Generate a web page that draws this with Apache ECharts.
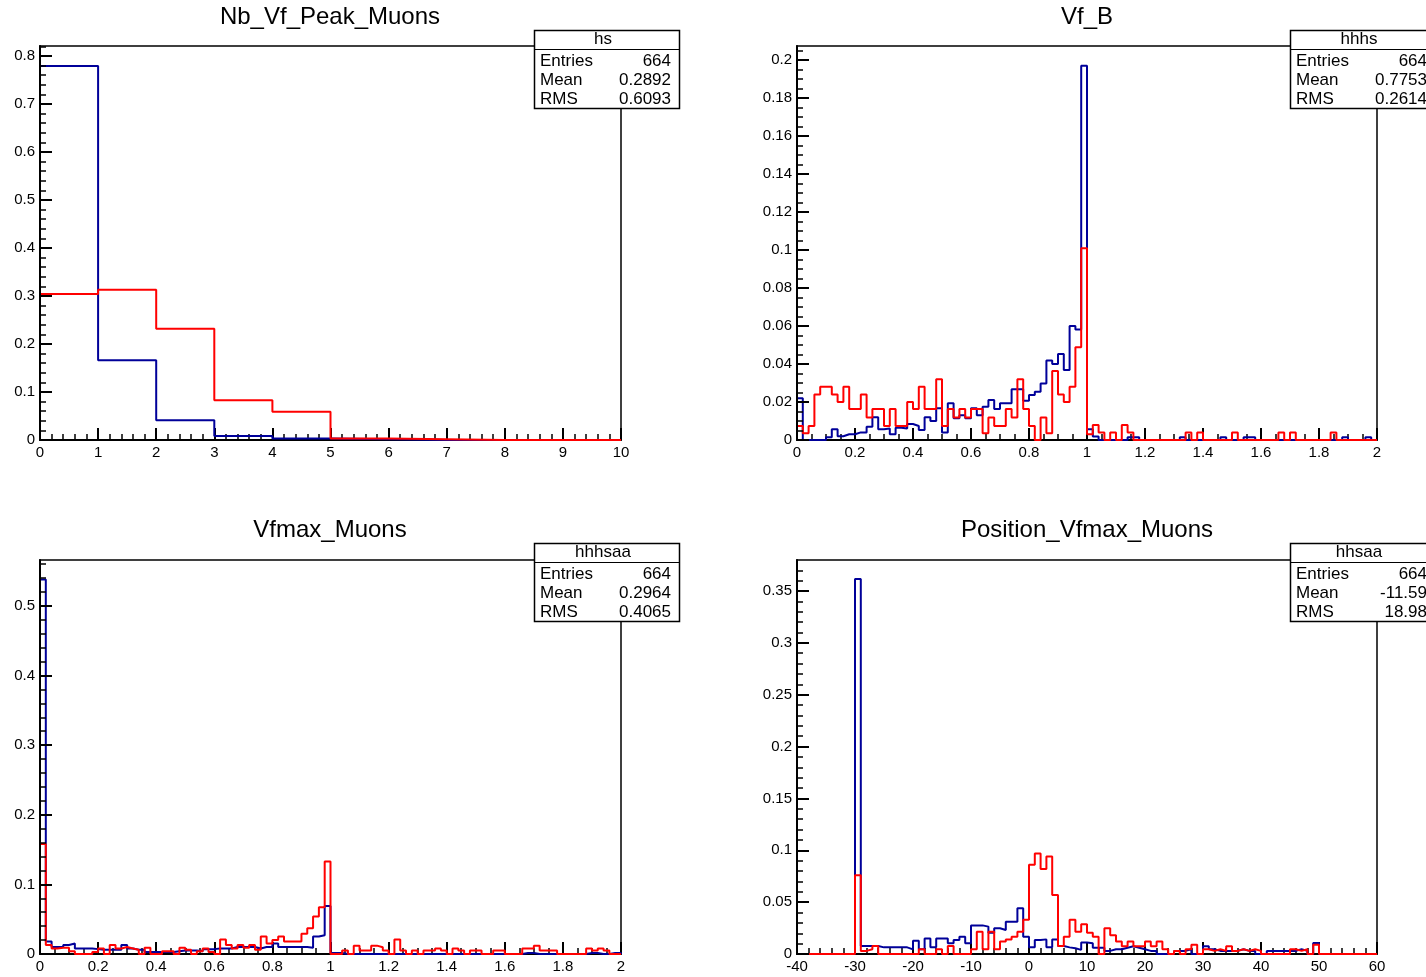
<!DOCTYPE html>
<html><head><meta charset="utf-8">
<script src="https://cdn.jsdelivr.net/npm/echarts@6.0.0/dist/echarts.min.js"></script>
<style>html,body{margin:0;padding:0;background:#fff}#c{width:1426px;height:977px}</style>
</head><body><div id="c"></div><script>
// ---------------- data ----------------
const titles = ['Nb_Vf_Peak_Muons', 'Vf_B', 'Vfmax_Muons', 'Position_Vfmax_Muons'];
const statNames = ['hs', 'hhhs', 'hhhsaa', 'hhsaa'];
const statLabels = ['Entries', 'Mean', 'RMS'];
const statEntries = ['664', '664', '664', '664'];
const statMeans = ['0.2892', '0.7753', '0.2964', '-11.59'];
const statRms = ['0.6093', '0.2614', '0.4065', '18.98'];

// Nb_Vf_Peak_Muons : 10 bins, 0..10
const nbBlue = [0.779, 0.166, 0.041, 0.0085, 0.003, 0.0015, 0, 0, 0, 0];
const nbRed  = [0.304, 0.313, 0.232, 0.083, 0.059, 0.003, 0.0015, 0, 0, 0];

// Vf_B : 100 bins, 0..2
const vfbBlue = [
 0.022, 0, 0, 0, 0, 0.0015, 0.0056, 0.002, 0.003, 0.003,
 0.004, 0.004, 0.007, 0.012, 0.0056, 0.006, 0.003, 0.0065, 0.006, 0.0084,
 0.0074, 0.0053, 0.012, 0.010, 0.0167, 0.004, 0.0193, 0.0114, 0.013, 0.0114,
 0.0167, 0.013, 0.0175, 0.021, 0.0163, 0.0193, 0.0193, 0.0267, 0.0267, 0.0207,
 0.0237, 0.0254, 0.0298, 0.0418, 0.040, 0.0453, 0.0368, 0.060, 0.0582, 0.197,
 0.0056, 0.0018, 0, 0, 0, 0, 0, 0.0015, 0.0015, 0,
 0, 0, 0, 0, 0, 0, 0.0015, 0, 0, 0,
 0, 0, 0, 0.0015, 0, 0, 0, 0.0015, 0.0015, 0,
 0, 0, 0, 0, 0, 0, 0, 0, 0, 0,
 0, 0, 0, 0, 0.0015, 0, 0, 0, 0.0015, 0];
const vfbRed = [
 0.0074, 0.0035, 0.0074, 0.024, 0.028, 0.028, 0.024, 0.020, 0.028, 0.0163,
 0.0163, 0.024, 0.0119, 0.0163, 0.0163, 0.0074, 0.0163, 0.0074, 0.0074, 0.020,
 0.0163, 0.028, 0.0163, 0.0163, 0.032, 0.0074, 0.0163, 0.0119, 0.0163, 0.0119,
 0.0163, 0.0163, 0.0035, 0.0119, 0.0074, 0.0074, 0.0163, 0.0119, 0.032, 0.0163,
 0.0074, 0, 0.0119, 0.0035, 0.0363, 0.024, 0.020, 0.028, 0.0488, 0.101,
 0.003, 0.0079, 0.0039, 0, 0.0039, 0, 0.0079, 0.0039, 0, 0,
 0, 0, 0, 0, 0, 0, 0, 0.0039, 0, 0.0039,
 0, 0, 0, 0, 0, 0.0039, 0, 0, 0, 0,
 0, 0, 0, 0.0039, 0, 0.0039, 0, 0, 0, 0,
 0, 0, 0.0039, 0, 0, 0, 0, 0, 0, 0];

// Vfmax_Muons : 100 bins, 0..2
const vfmaxBlue = [
 0.538, 0.018, 0.010, 0.010, 0.013, 0.015, 0.008, 0.008, 0.008, 0.007,
 0.006, 0.006, 0.006, 0.006, 0.013, 0.008, 0.006, 0.006, 0.003, 0.003,
 0.003, 0.003, 0.003, 0.004, 0.005, 0.005, 0.005, 0.004, 0.007, 0.007,
 0.008, 0.008, 0.008, 0.010, 0.010, 0.010, 0.010, 0.008, 0.010, 0.010,
 0.015, 0.010, 0.010, 0.010, 0.010, 0.010, 0.009, 0.025, 0.027, 0.069,
 0.0015, 0.0015, 0, 0, 0, 0, 0, 0, 0, 0,
 0, 0, 0, 0, 0, 0, 0, 0, 0, 0,
 0, 0, 0, 0, 0, 0, 0, 0, 0, 0,
 0, 0, 0, 0.0015, 0.0015, 0, 0, 0, 0, 0,
 0, 0, 0, 0, 0.0015, 0.0015, 0, 0, 0.0015, 0.0015];
const vfmaxRed = [
 0.158, 0.013, 0.008, 0.009, 0.009, 0.004, 0, 0, 0, 0.003,
 0.008, 0, 0.013, 0.008, 0.010, 0.008, 0.006, 0, 0.009, 0,
 0, 0.004, 0.004, 0, 0.009, 0.006, 0, 0.004, 0.008, 0.003,
 0, 0.021, 0.013, 0.008, 0.013, 0.009, 0.013, 0.006, 0.025, 0.015,
 0.020, 0.025, 0.018, 0.018, 0.018, 0.029, 0.037, 0.054, 0.067, 0.133,
 0, 0, 0.005, 0, 0.012, 0.005, 0.005, 0.012, 0.0096, 0.005,
 0, 0.021, 0.005, 0, 0.005, 0, 0.005, 0.005, 0.008, 0.005,
 0, 0.008, 0.005, 0, 0.005, 0.005, 0, 0, 0.005, 0.005,
 0, 0, 0, 0.008, 0.008, 0.012, 0.005, 0.005, 0.005, 0,
 0, 0, 0, 0, 0.008, 0.005, 0.008, 0.005, 0, 0];

// Position_Vfmax_Muons : 100 bins, -40..60
const posBlue = [
 0, 0, 0, 0, 0, 0, 0, 0, 0, 0,
 0.3616, 0.0077, 0.0077, 0.0077, 0.0064, 0.0064, 0.0064, 0.0064, 0.0064, 0.0045,
 0.0128, 0.0045, 0.015, 0.0064, 0.015, 0.015, 0.0103, 0.0135, 0.0167, 0.0103,
 0.0276, 0.0276, 0.0264, 0.0206, 0.0248, 0.0231, 0.031, 0.031, 0.044, 0.0167,
 0.0064, 0.0135, 0.0141, 0.0064, 0.0141, 0.0077, 0.0064, 0.0055, 0.004, 0.011,
 0.0103, 0.006, 0.006, 0.003, 0.0045, 0.0045, 0.006, 0.0075, 0.006, 0.0045,
 0.003, 0.003, 0, 0, 0, 0.003, 0.003, 0.0045, 0, 0,
 0.0075, 0.0045, 0.003, 0.003, 0.003, 0.003, 0.0045, 0.003, 0.003, 0,
 0, 0.003, 0.003, 0.003, 0.003, 0.003, 0.0045, 0.003, 0, 0.0105,
 0, 0, 0, 0, 0, 0, 0, 0, 0, 0];
const posRed = [
 0, 0, 0, 0, 0, 0, 0, 0, 0, 0,
 0.076, 0.003, 0.0045, 0.0077, 0, 0, 0, 0, 0, 0,
 0, 0.0045, 0, 0, 0.0045, 0, 0.0077, 0, 0, 0,
 0.0045, 0.0215, 0.0045, 0.0215, 0.0045, 0.012, 0.0141, 0.0167, 0.0215, 0.033,
 0.086, 0.097, 0.082, 0.094, 0.057, 0.0077, 0.0167, 0.033, 0.0215, 0.0286,
 0.0206, 0.0167, 0, 0.0248, 0.018, 0.012, 0.0075, 0.012, 0.0075, 0.0075,
 0.012, 0.0075, 0.012, 0.0045, 0, 0.003, 0, 0.0045, 0.009, 0,
 0.0045, 0.003, 0.0045, 0.003, 0.0075, 0.003, 0.0045, 0.003, 0.0045, 0.003,
 0, 0, 0, 0, 0, 0.0045, 0.003, 0.0045, 0, 0.009,
 0, 0, 0, 0, 0, 0, 0, 0, 0, 0];

// ---------------- layout / style ----------------
const FONT = "'Liberation Sans', Arial, Helvetica, sans-serif";
const BLUE = '#000099', RED = '#ff0000';
const panels = [
  {grid:{left:40, top:46, width:581, height:394}, xr:[0,10,1,0.2], yr:[0,0.8208,0.1,0.02], low:0, w:1, blue:nbBlue, red:nbRed, box:[534,30], tpos:[330,17]},
  {grid:{left:797, top:46, width:580, height:394}, xr:[0,2,0.2,0.05], yr:[0,0.2074,0.02,0.005], low:0, w:0.02, blue:vfbBlue, red:vfbRed, box:[1290,30], tpos:[1087,17]},
  {grid:{left:40, top:560, width:581, height:394}, xr:[0,2,0.2,0.05], yr:[0,0.566,0.1,0.02], low:0, w:0.02, blue:vfmaxBlue, red:vfmaxRed, box:[534,543], tpos:[330,530]},
  {grid:{left:797, top:560, width:580, height:394}, xr:[-40,60,10,2], yr:[0,0.3799,0.05,0.01], low:-40, w:1, blue:posBlue, red:posRed, box:[1290,543], tpos:[1087,530]}
];

function histPoints(low, w, vals) {
  const pts = [[low, 0]];
  for (let i = 0; i < vals.length; i++) pts.push([+(low + i * w).toFixed(6), vals[i]]);
  const hi = +(low + vals.length * w).toFixed(6);
  pts.push([hi, vals[vals.length - 1]]);
  pts.push([hi, 0]);
  return pts;
}
function minorValues(min, max, step) {
  const out = [];
  const k0 = Math.ceil(min / step - 1e-9), k1 = Math.floor(max / step + 1e-9);
  for (let k = k0; k <= k1; k++) out.push(+(k * step).toFixed(6));
  return out;
}
function majorAxis(g, r, isY) {
  return {
    type:'value', gridIndex:g, min:r[0], max:r[1], interval:r[2], z: isY ? 5 : 0,
    position: isY ? 'left' : 'bottom',
    axisLine:{show:true, onZero:false, lineStyle:{color:'#000', width:2}},
    axisTick:{show:true, inside:true, length:12, lineStyle:{color:'#000', width:2}},
    minorTick:{show:false},
    splitLine:{show:false},
    axisLabel:{color:'#000', fontSize:15, fontFamily:FONT, margin:5,
      showMaxLabel: isY ? false : true, showMinLabel:true, hideOverlap:false}
  };
}
function minorAxis(g, r, isY) {
  return {
    type:'value', gridIndex:g, min:r[0], max:r[1], z: isY ? 5 : 0,
    position: isY ? 'left' : 'bottom', offset:0,
    axisLine:{show:false, onZero:false},
    axisTick:{show:true, inside:true, length:6, customValues:minorValues(r[0], r[1], r[3]),
      lineStyle:{color:'#000', width:1.5}},
    splitLine:{show:false},
    axisLabel:{show:false}
  };
}

const grids = [], xAxes = [], yAxes = [], series = [], graphics = [];
panels.forEach((p, g) => {
  grids.push(Object.assign({show:true, borderColor:'#000', borderWidth:1.5, backgroundColor:'transparent', containLabel:false, outerBoundsMode:'none'}, p.grid));
  xAxes.push(majorAxis(g, p.xr, false), minorAxis(g, p.xr, false));
  yAxes.push(majorAxis(g, p.yr, true), minorAxis(g, p.yr, true));
  [[p.blue, BLUE], [p.red, RED]].forEach(([vals, col], k) => {
    series.push({
      type:'line', xAxisIndex:2*g, yAxisIndex:2*g, data:histPoints(p.low, p.w, vals),
      step:'end', symbol:'none', showSymbol:false, animation:false, clip:true,
      lineStyle:{color:col, width:2}, itemStyle:{color:col}, z:2 + k
    });
  });
  // title
  graphics.push({type:'text', x:p.tpos[0], y:p.tpos[1], z:200,
    style:{text:titles[g], fill:'#000', font:'24px ' + FONT, textAlign:'center', textVerticalAlign:'middle'}});
  // stats box
  const bx = p.box[0], by = p.box[1], bw = 145, bh = 78;
  graphics.push({type:'rect', z:200, shape:{x:bx + 0.5, y:by + 0.5, width:bw, height:bh},
    style:{fill:'#fff', stroke:'#000', lineWidth:1.5}});
  graphics.push({type:'line', z:201, shape:{x1:bx, y1:by + 19.5, x2:bx + bw, y2:by + 19.5},
    style:{stroke:'#000', lineWidth:1}});
  graphics.push({type:'text', z:202, x:bx + 69, y:by + 9,
    style:{text:statNames[g], fill:'#000', font:'17px ' + FONT, textAlign:'center', textVerticalAlign:'middle'}});
  const vals = [statEntries[g], statMeans[g], statRms[g]];
  statLabels.forEach((lab, i) => {
    const yy = by + 31 + i * 19.3;
    graphics.push({type:'text', z:202, x:bx + 6, y:yy,
      style:{text:lab, fill:'#000', font:'17px ' + FONT, textAlign:'left', textVerticalAlign:'middle'}});
    graphics.push({type:'text', z:202, x:bx + 137, y:yy,
      style:{text:vals[i], fill:'#000', font:'17px ' + FONT, textAlign:'right', textVerticalAlign:'middle'}});
  });
});

const chart = echarts.init(document.getElementById('c'), null, {renderer:'canvas'});
chart.setOption({
  backgroundColor:'#fff', animation:false,
  grid:grids, xAxis:xAxes, yAxis:yAxes, series:series, graphic:graphics,
  tooltip:{show:false}
});
</script></body></html>
